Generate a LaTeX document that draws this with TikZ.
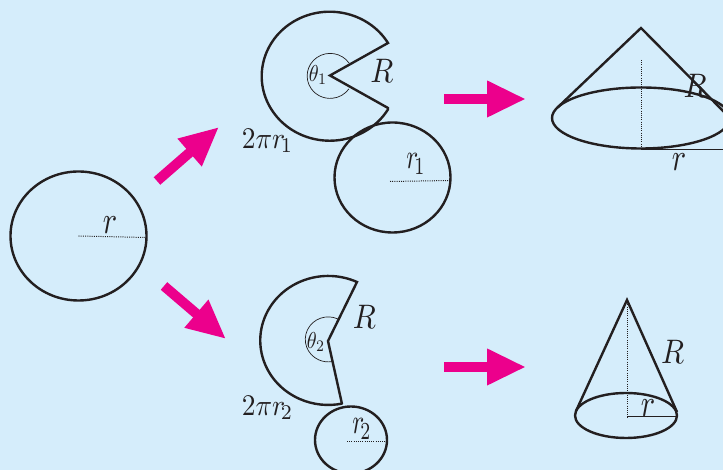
\documentclass[tikz,border=0pt]{standalone}
\usetikzlibrary{arrows.meta}
\definecolor{bgblue}{HTML}{D5EDFB}
\definecolor{arrowpink}{HTML}{EC008C}
\definecolor{ink}{HTML}{231F20}
\tikzset{
  shape line/.style={draw=ink,line width=2.4pt,line join=miter},
  thin line/.style={draw=ink,line width=0.7pt},
  dot line/.style={draw=ink,line width=1pt,dash pattern=on 1pt off 1.2pt},
  big arrow/.style={draw=arrowpink,line width=10pt,-{Triangle[length=39pt,width=34pt,fill=arrowpink]}},
  big label/.style={text=ink,inner sep=0pt,xscale=3.0,yscale=3.4},
  r label/.style={text=ink,inner sep=0pt,xscale=3.0,yscale=3.9},
  sub label/.style={text=ink,inner sep=0pt,xscale=2.5,yscale=3.5},
  mid label/.style={text=ink,inner sep=0pt,xscale=2.75,yscale=3.0},
  small label/.style={text=ink,inner sep=0pt,xscale=2.0,yscale=2.3},
}
\begin{document}
\begin{tikzpicture}[x=1pt,y=1pt]
\useasboundingbox (0,0) rectangle (723,470);
\fill[bgblue] (0,0) rectangle (723,470);
\clip (0,0) rectangle (723,470);
% left circle
\coordinate (c0) at (78.5,234);
\coordinate (c0r) at (146,232.5);
\draw[dot line] (c0) -- (c0r);
\draw[shape line] (c0) ellipse [x radius=68pt,y radius=64.5pt];
\node[r label] (lr0) at (110,245) {$r$};
% upper sector
\coordinate (a1) at (330,394.5);
\coordinate (a1t) at (388,427);
\coordinate (a1b) at (388,362);
\draw[shape line] (a1b) -- (a1) -- (a1t) arc[start angle=31,end angle=329,x radius=68pt,y radius=64.5pt] -- cycle;
\draw[thin line] (349,407) arc[start angle=35,end angle=325,x radius=23pt,y radius=22.5pt];
\node[big label] (lR1) at (382,399) {$R$};
\node[small label] (lth1) at (318,395) {$\theta_1$};
\node[mid label] (l2p1) at (267.5,329) {$2\pi r_{\!1}$};
% upper base circle
\coordinate (c1) at (392.5,292.5);
\coordinate (c1r) at (450,289.5);
\draw[dot line] (390,288.5) -- (c1r);
\draw[shape line] (c1) ellipse [x radius=58pt,y radius=55pt];
\node[sub label] (lr1) at (416,306) {$r_{\!1}$};
% lower sector
\coordinate (a2) at (328,129);
\coordinate (a2t) at (357,188);
\coordinate (a2b) at (342,66);
\draw[shape line] (a2b) -- (a2) -- (a2t) arc[start angle=65,end angle=282,x radius=68pt,y radius=64.5pt];
\draw[thin line] (338,151) arc[start angle=65,end angle=280,x radius=23pt,y radius=22.5pt];
\node[big label] (lR2) at (364.5,153) {$R$};
\node[small label] (lth2) at (316,128) {$\theta_2$};
\node[mid label] (l2p2) at (267.5,62) {$2\pi r_{\!2}$};
% lower base circle
\coordinate (c2) at (351,30);
\coordinate (c2r) at (385,28);
\draw[dot line] (347,28) -- (c2r);
\draw[shape line] (c2) ellipse [x radius=36pt,y radius=33.5pt];
\node[sub label] (lr2) at (362,41) {$r_{\!2}$};
% upper cone
\coordinate (k1) at (641,442);
\coordinate (k1c) at (641,352);
\coordinate (k1l) at (557,362);
\coordinate (k1r) at (730,352);
\draw[dot line] (641.5,410) -- (641.5,322);
\draw[thin line] (641,321) -- (723,321);
\draw[shape line] (k1l) -- (k1) -- (k1r);
\draw[shape line] (k1c) ellipse [x radius=89pt,y radius=30.5pt];
\node[big label] (lR3) at (695,384) {$R$};
\node[r label] (lr3) at (679,308) {$r$};
% lower cone
\coordinate (k2) at (627,170);
\coordinate (k2c) at (626,54.5);
\coordinate (k2o) at (627,53);
\coordinate (k2e) at (677,53);
\draw[dot line] (k2) -- (k2o);
\draw[thin line,line width=1pt] (k2o) -- (k2e);
\draw[shape line] (576,59) -- (k2) -- (677,58);
\draw[shape line] (k2c) ellipse [x radius=51pt,y radius=22.5pt];
\node[big label] (lR4) at (672.5,118) {$R$};
\node[r label] (lr4) at (648,62) {$r$};
% arrows
\coordinate (p1s) at (157,289); \coordinate (p1e) at (219,343);
\coordinate (p2s) at (164,184); \coordinate (p2e) at (226,131);
\coordinate (p3s) at (444,371); \coordinate (p3e) at (526,371);
\coordinate (p4s) at (444,103); \coordinate (p4e) at (526,103);
\draw[big arrow] (p1s) -- (p1e);
\draw[big arrow] (p2s) -- (p2e);
\draw[big arrow] (p3s) -- (p3e);
\draw[big arrow] (p4s) -- (p4e);
\end{tikzpicture}
\end{document}
